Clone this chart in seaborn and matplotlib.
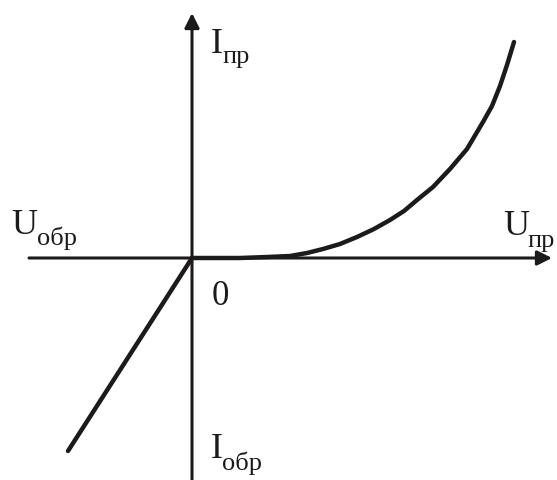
import matplotlib
matplotlib.use("Agg")
import matplotlib.pyplot as plt
import seaborn as sns

sns.set_theme(style="white")
plt.rcParams["font.family"] = ["Liberation Serif", "DejaVu Serif"]

# forward branch (U_пр, I_пр), origin at the axes crossing
forward_u = [0, 15, 48, 75, 98, 115, 131, 148, 165, 182, 198, 212, 225, 241,
             258, 275, 291, 300, 308, 315, 322]
forward_i = [0, 0, 0, 1, 2, 5, 9, 14, 21, 29, 38, 47, 58, 71,
             89, 109, 136, 152, 172, 193, 216]

# reverse branch (U_обр, I_обр) - straight line
reverse_u = [0, -124]
reverse_i = [0, -193]

ink = "#1c1a1a"

fig = plt.figure(figsize=(5.57, 4.81), dpi=100)
ax = fig.add_axes([0, 0, 1, 1])
ax.set_xlim(-192, 365)
ax.set_ylim(-222, 259)
ax.set_axis_off()

# axes with arrows
ax.annotate("", xy=(360, 0), xytext=(-163, 0),
            arrowprops=dict(arrowstyle="-|>", lw=2.2, color=ink, mutation_scale=22,
                            shrinkA=0, shrinkB=0))
ax.annotate("", xy=(0, 245), xytext=(0, -225),
            arrowprops=dict(arrowstyle="-|>", lw=2.2, color=ink, mutation_scale=22,
                            shrinkA=0, shrinkB=0))

sns.lineplot(x=forward_u, y=forward_i, ax=ax, color=ink, lw=3.2,
             sort=False, estimator=None, solid_joinstyle="round")
sns.lineplot(x=reverse_u, y=reverse_i, ax=ax, color=ink, lw=3.2,
             sort=False, estimator=None)

big = 26
small = 19

def label(x, y, main, sub, dx, dy):
    ax.text(x, y, main, fontsize=big, color=ink, ha="left", va="baseline")
    ax.text(x + dx, y - dy, sub, fontsize=small, color=ink, ha="left", va="baseline")

label(-181, 25, "U", "обр", 26, 11)
label(19, 206, "I", "пр", 11, 10)
label(311, 24, "U", "пр", 24, 12)
label(19, -199, "I", "обр", 11, 12)
ax.text(20, -46, "0", fontsize=25, color=ink, ha="left", va="baseline")

fig.savefig("out.png", dpi=100)
